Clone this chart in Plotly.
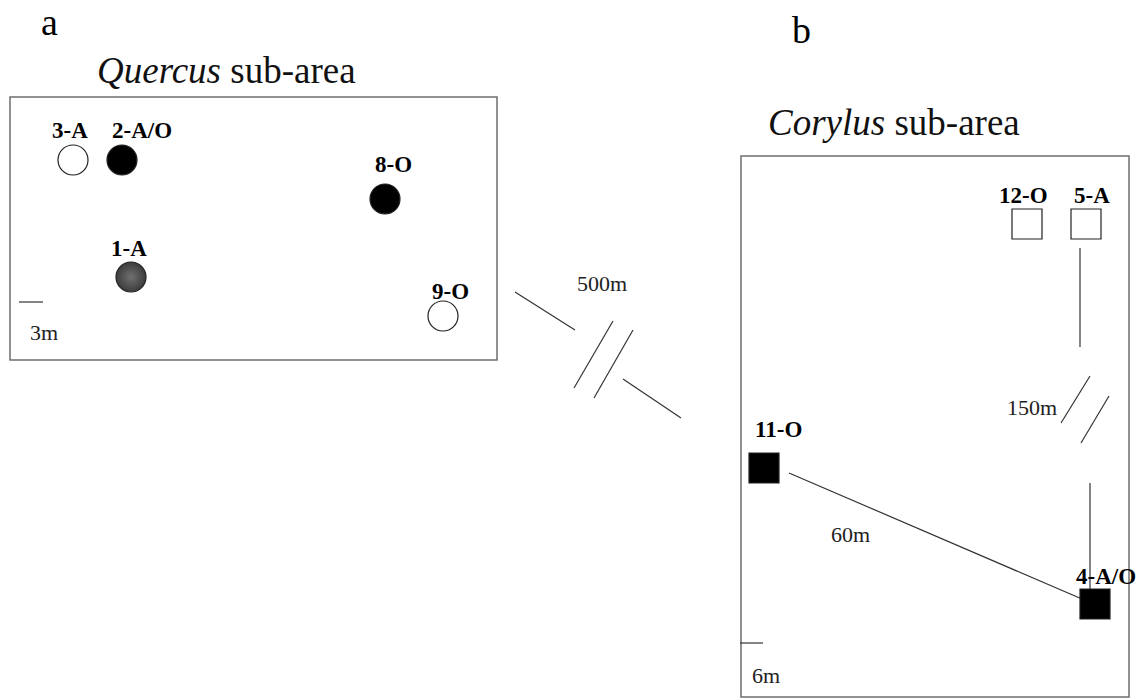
import plotly.graph_objects as go

# ---- data (diagram units = reference pixels, y downward) ----
quercus_sites = ["3-A", "2-A/O", "8-O", "1-A", "9-O"]
quercus_x = [73, 122, 385, 131, 443]
quercus_y = [160, 160, 199, 277, 316]
quercus_fill = ["white", "black", "black", "#3c3c3c", "white"]
quercus_label_x = [70, 142, 393, 129, 450]
quercus_label_y = [130, 130, 164, 248, 291]

corylus_sites = ["12-O", "5-A", "11-O", "4-A/O"]
corylus_x = [1027, 1086, 764, 1095]
corylus_y = [224, 224, 468, 604]
corylus_fill = ["white", "white", "black", "black"]
corylus_label_x = [1023, 1092, 778, 1106]
corylus_label_y = [195, 195, 429, 576]

panel_letters = ["a", "b"]
panel_letter_x = [49, 801]
panel_letter_y = [22, 30]

area_titles = ["<i>Quercus</i> sub-area", "<i>Corylus</i> sub-area"]
area_title_x = [226, 894]
area_title_y = [70, 122]
area_box_x0 = [10, 741]
area_box_y0 = [97, 156]
area_box_x1 = [497, 1129]
area_box_y1 = [360, 697]

dist_labels = ["500m", "150m", "60m", "3m", "6m"]
dist_x = [602, 1032, 850, 44, 766]
dist_y = [283, 407, 534, 332, 675]

# connector segments: (x0, y0, x1, y1)
seg_x0 = [515, 574, 594, 623, 1080, 1061, 1081, 1090, 789, 19, 740]
seg_y0 = [292, 388, 398, 379, 248, 423, 443, 483, 473, 302, 643]
seg_x1 = [575, 613, 633, 681, 1080, 1090, 1109, 1090, 1082, 43, 763]
seg_y1 = [330, 321, 330, 418, 347, 376, 396, 597, 599, 302, 643]

SERIF = "Liberation Serif, Times New Roman, serif"

fig = go.Figure()

shapes = []
for x0, y0, x1, y1 in zip(area_box_x0, area_box_y0, area_box_x1, area_box_y1):
    shapes.append(dict(type="rect", xref="x", yref="y", x0=x0, y0=y0, x1=x1, y1=y1,
                       line=dict(color="#6e6e6e", width=1.5), fillcolor="rgba(0,0,0,0)", layer="below"))
for x0, y0, x1, y1 in zip(seg_x0, seg_y0, seg_x1, seg_y1):
    shapes.append(dict(type="line", xref="x", yref="y", x0=x0, y0=y0, x1=x1, y1=y1,
                       line=dict(color="#333333", width=1.2), layer="below"))

# Quercus sites (circles)
for i in range(len(quercus_sites)):
    grad = dict(type="radial", color="#707070") if i == 3 else dict(type="none")
    fig.add_trace(go.Scatter(
        x=[quercus_x[i]], y=[quercus_y[i]], mode="markers",
        marker=dict(symbol="circle", size=30, color=quercus_fill[i],
                    gradient=grad, line=dict(color="#222222", width=1.2)),
        hoverinfo="skip", showlegend=False))

# Corylus sites (squares)
fig.add_trace(go.Scatter(
    x=corylus_x, y=corylus_y, mode="markers",
    marker=dict(symbol="square", size=30, color=corylus_fill, line=dict(color="#222222", width=1.2)),
    hoverinfo="skip", showlegend=False))

annotations = []
for t, x, y in zip(quercus_sites + corylus_sites, quercus_label_x + corylus_label_x,
                   quercus_label_y + corylus_label_y):
    annotations.append(dict(text="<b>%s</b>" % t, x=x, y=y, xref="x", yref="y", showarrow=False,
                            font=dict(family=SERIF, size=23, color="black"),
                            xanchor="center", yanchor="middle"))
for t, x, y in zip(panel_letters, panel_letter_x, panel_letter_y):
    annotations.append(dict(text=t, x=x, y=y, xref="x", yref="y", showarrow=False,
                            font=dict(family=SERIF, size=38, color="black"),
                            xanchor="center", yanchor="middle"))
for t, x, y in zip(area_titles, area_title_x, area_title_y):
    annotations.append(dict(text=t, x=x, y=y, xref="x", yref="y", showarrow=False,
                            font=dict(family=SERIF, size=37, color="#111111"),
                            xanchor="center", yanchor="middle"))
for t, x, y in zip(dist_labels, dist_x, dist_y):
    annotations.append(dict(text=t, x=x, y=y, xref="x", yref="y", showarrow=False,
                            font=dict(family=SERIF, size=22, color="#222222"),
                            xanchor="center", yanchor="middle"))

fig.update_layout(
    width=1139, height=700,
    margin=dict(l=0, r=0, t=0, b=0),
    paper_bgcolor="white", plot_bgcolor="white",
    xaxis=dict(range=[0, 1139], visible=False, fixedrange=True),
    yaxis=dict(range=[700, 0], visible=False, fixedrange=True),
    shapes=shapes, annotations=annotations,
)

fig.write_html("out.html", config={"displayModeBar": False},
               post_script="document.body.style.margin='0';document.body.style.overflow='hidden';")
